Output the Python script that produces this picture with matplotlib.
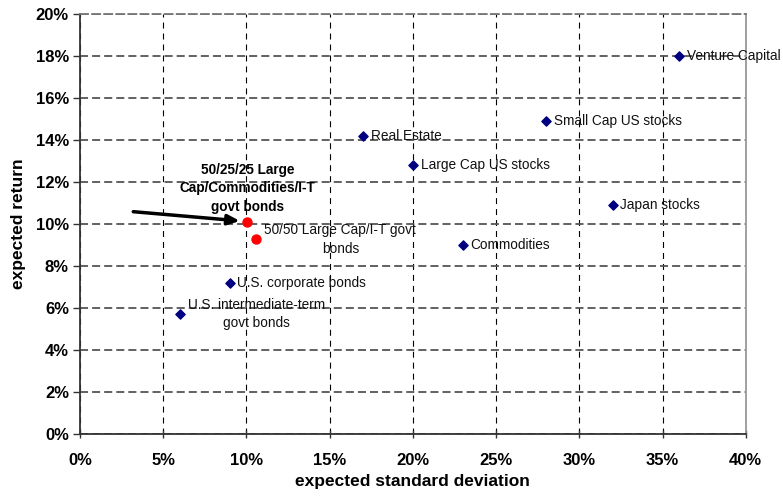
import matplotlib.pyplot as plt
import numpy as np
from matplotlib.ticker import PercentFormatter

plt.rcParams['font.family'] = ['Liberation Sans', 'DejaVu Sans']
plt.rcParams['lines.scale_dashes'] = False

# asset classes: expected standard deviation vs expected return
assets = ['Venture Capital', 'Small Cap US stocks', 'Real Estate', 'Large Cap US stocks',
          'Japan stocks', 'Commodities', 'U.S. corporate bonds',
          'U.S. intermediate-term\ngovt bonds']
asset_sd = [0.36, 0.28, 0.17, 0.20, 0.32, 0.23, 0.09, 0.06]
asset_ret = [0.180, 0.149, 0.142, 0.128, 0.109, 0.090, 0.072, 0.057]

# blended portfolios
mixes = ['50/25/25 Large\nCap/Commodities/I-T\ngovt bonds', '50/50 Large Cap/I-T govt\nbonds']
mix_sd = [0.1005, 0.1058]
mix_ret = [0.1008, 0.0926]

x_ticks = np.arange(0, 0.41, 0.05)
y_ticks = np.arange(0, 0.201, 0.02)

fig = plt.figure(figsize=(7.83, 5), dpi=100)
ax = fig.add_axes([0.1022, 0.1326, 0.8502, 0.8394])

ax.set_xlim(0, 0.40)
ax.set_ylim(0, 0.20)
ax.set_xticks(x_ticks)
ax.set_yticks(y_ticks)
ax.xaxis.set_major_formatter(PercentFormatter(1.0, decimals=0))
ax.yaxis.set_major_formatter(PercentFormatter(1.0, decimals=0))
for lab in ax.get_xticklabels() + ax.get_yticklabels():
    lab.set_fontweight('bold')
ax.tick_params(axis='x', direction='inout', length=6, width=1, labelsize=12, pad=11, color='#333')
ax.tick_params(axis='y', direction='out', length=5, width=1, labelsize=12, pad=3, color='#333')

ax.xaxis.grid(True, color='black', linewidth=0.8, linestyle=(0, (4.3, 3.6)))
ax.yaxis.grid(True, color='#555555', linewidth=1.3, linestyle=(0, (5.8, 2.9)))
ax.set_axisbelow(True)

for side in ['left', 'bottom']:
    ax.spines[side].set_color('#333333')
    ax.spines[side].set_linewidth(1.3)
ax.spines['top'].set_color('#777777')
ax.spines['top'].set_linewidth(1.3)
ax.spines['top'].set_linestyle((0, (5.8, 2.9)))
ax.spines['right'].set_color('#999999')
ax.spines['right'].set_linewidth(1.3)

ax.set_xlabel('expected standard deviation', fontsize=12.5, fontweight='bold', labelpad=4)
ax.set_ylabel('expected return', fontsize=12.5, fontweight='bold', labelpad=7)

ax.scatter(asset_sd, asset_ret, marker='D', s=22, color='#000080', zorder=3, clip_on=False)
ax.scatter(mix_sd, mix_ret, marker='o', s=42, color='#ff0000', zorder=3)

for name, x, y in zip(assets, asset_sd, asset_ret):
    ax.annotate(name, (x, y), xytext=(5.5, 0), textcoords='offset points',
                ha='left', va='center', multialignment='center',
                fontsize=9.8, color='#111111', linespacing=1.4,
                annotation_clip=False)

ax.annotate(mixes[1], (mix_sd[1], mix_ret[1]), xytext=(6, 0), textcoords='offset points',
            ha='left', va='center', multialignment='center',
            fontsize=9.8, color='#111111', linespacing=1.4)

ax.annotate(mixes[0], (0.1005, 0.117), ha='center', va='center',
            multialignment='center', fontsize=9.8, fontweight='bold', linespacing=1.4)
ax.annotate('', xy=(mix_sd[0] - 0.0045, mix_ret[0] + 0.0006), xytext=(0.032, 0.1058),
            arrowprops=dict(arrowstyle='-|>,head_length=0.7,head_width=0.3',
                            color='black', lw=2.5, shrinkA=0, shrinkB=0))

fig.savefig('out.png', dpi=100)
